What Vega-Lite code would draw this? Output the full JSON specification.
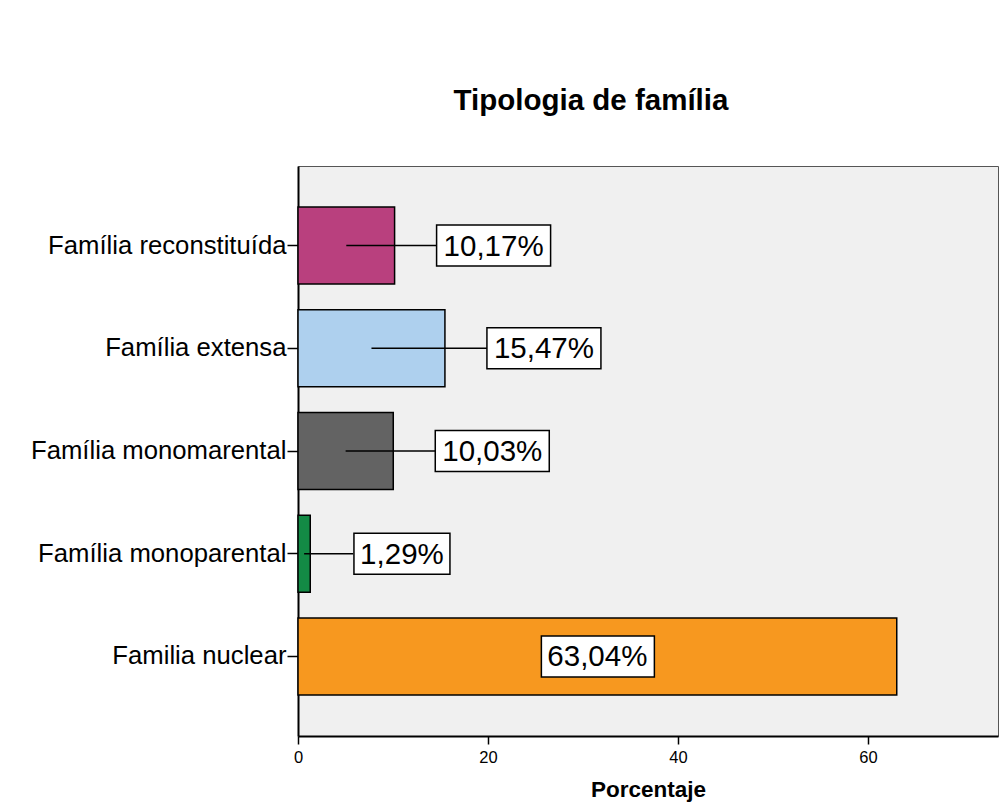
{
  "$schema": "https://vega.github.io/schema/vega-lite/v6.json",
  "width": 700,
  "height": 570,
  "autosize": {"type": "none"},
  "padding": {"left": 298, "top": 166, "right": 7, "bottom": 75},
  "background": "white",
  "title": {"text": "Tipologia de família", "fontSize": 29.5, "font": "Liberation Sans", "fontWeight": "bold", "anchor": "middle", "frame": "group", "dx": -57, "offset": 50, "color": "black"},
  "config": {"view": {"stroke": "#555555", "strokeWidth": 1, "fill": "#F0F0F0"}, "font": "Liberation Sans"},
  "data": {"values": [
    {"tipo": "Família reconstituída", "value": 10.17, "label": "10,17%"},
    {"tipo": "Família extensa", "value": 15.47, "label": "15,47%"},
    {"tipo": "Família monomarental", "value": 10.03, "label": "10,03%"},
    {"tipo": "Família monoparental", "value": 1.29, "label": "1,29%"},
    {"tipo": "Familia nuclear", "value": 63.04, "label": "63,04%"}
  ]},
  "transform": [{"calculate": "datum.value / 2", "as": "mid"}],
  "encoding": {
    "y": {"field": "tipo", "type": "nominal", "sort": null,
      "scale": {"paddingInner": 0.25, "paddingOuter": 0.4},
      "axis": {"title": null, "labelFontSize": 25.7, "labelColor": "black", "labelPadding": 1, "tickSize": 11, "tickColor": "black", "tickWidth": 1.5, "domainColor": "black", "domainWidth": 2, "labelLimit": 400}}
  },
  "layer": [
    {
      "mark": {"type": "bar", "stroke": "black", "strokeWidth": 1.5},
      "encoding": {
        "x": {"field": "value", "type": "quantitative", "scale": {"domain": [0, 73.7], "nice": false, "zero": true},
          "axis": {"title": "Porcentaje", "values": [0, 20, 40, 60], "labelFlush": false, "titleFontSize": 22.5, "titleFontWeight": "bold", "titleColor": "black", "labelFontSize": 16.5, "labelColor": "black", "tickSize": 8, "tickColor": "black", "tickWidth": 1.5, "domainColor": "black", "domainWidth": 2, "grid": false, "labelPadding": 5, "titlePadding": 13}},
        "color": {"field": "tipo", "type": "nominal", "legend": null,
          "scale": {"domain": ["Família reconstituída", "Família extensa", "Família monomarental", "Família monoparental", "Familia nuclear"],
                    "range": ["#B9407E", "#AED0EE", "#636363", "#138A45", "#F7981F"]}}
      }
    },
    {
      "transform": [{"filter": "datum.value < 50"}],
      "mark": {"type": "rule", "color": "black", "strokeWidth": 1.5, "x2Offset": 43},
      "encoding": {
        "x": {"field": "mid", "type": "quantitative"},
        "x2": {"field": "value"}
      }
    },
    {
      "transform": [{"filter": "datum.value > 2 && datum.value < 50"}],
      "mark": {"type": "rect", "fill": "white", "stroke": "black", "strokeWidth": 1.5, "xOffset": 42, "x2Offset": 156, "height": 41},
      "encoding": {
        "x": {"field": "value", "type": "quantitative"},
        "x2": {"field": "value"}
      }
    },
    {
      "transform": [{"filter": "datum.value < 2"}],
      "mark": {"type": "rect", "fill": "white", "stroke": "black", "strokeWidth": 1.5, "xOffset": 43.7, "x2Offset": 139.7, "height": 41},
      "encoding": {
        "x": {"field": "value", "type": "quantitative"},
        "x2": {"field": "value"}
      }
    },
    {
      "transform": [{"filter": "datum.value > 50"}],
      "mark": {"type": "rect", "fill": "white", "stroke": "black", "strokeWidth": 1.5, "xOffset": -56, "x2Offset": 57, "height": 41},
      "encoding": {
        "x": {"field": "mid", "type": "quantitative"},
        "x2": {"field": "mid"}
      }
    },
    {
      "transform": [{"filter": "datum.value > 2 && datum.value < 50"}],
      "mark": {"type": "text", "fontSize": 29.5, "color": "black", "align": "center", "baseline": "middle", "dx": 99, "dy": 1},
      "encoding": {
        "x": {"field": "value", "type": "quantitative"},
        "text": {"field": "label"}
      }
    },
    {
      "transform": [{"filter": "datum.value < 2"}],
      "mark": {"type": "text", "fontSize": 29.5, "color": "black", "align": "center", "baseline": "middle", "dx": 91.7, "dy": 1},
      "encoding": {
        "x": {"field": "value", "type": "quantitative"},
        "text": {"field": "label"}
      }
    },
    {
      "transform": [{"filter": "datum.value > 50"}],
      "mark": {"type": "text", "fontSize": 29.5, "color": "black", "align": "center", "baseline": "middle", "dy": 1},
      "encoding": {
        "x": {"field": "mid", "type": "quantitative"},
        "text": {"field": "label"}
      }
    }
  ]
}
